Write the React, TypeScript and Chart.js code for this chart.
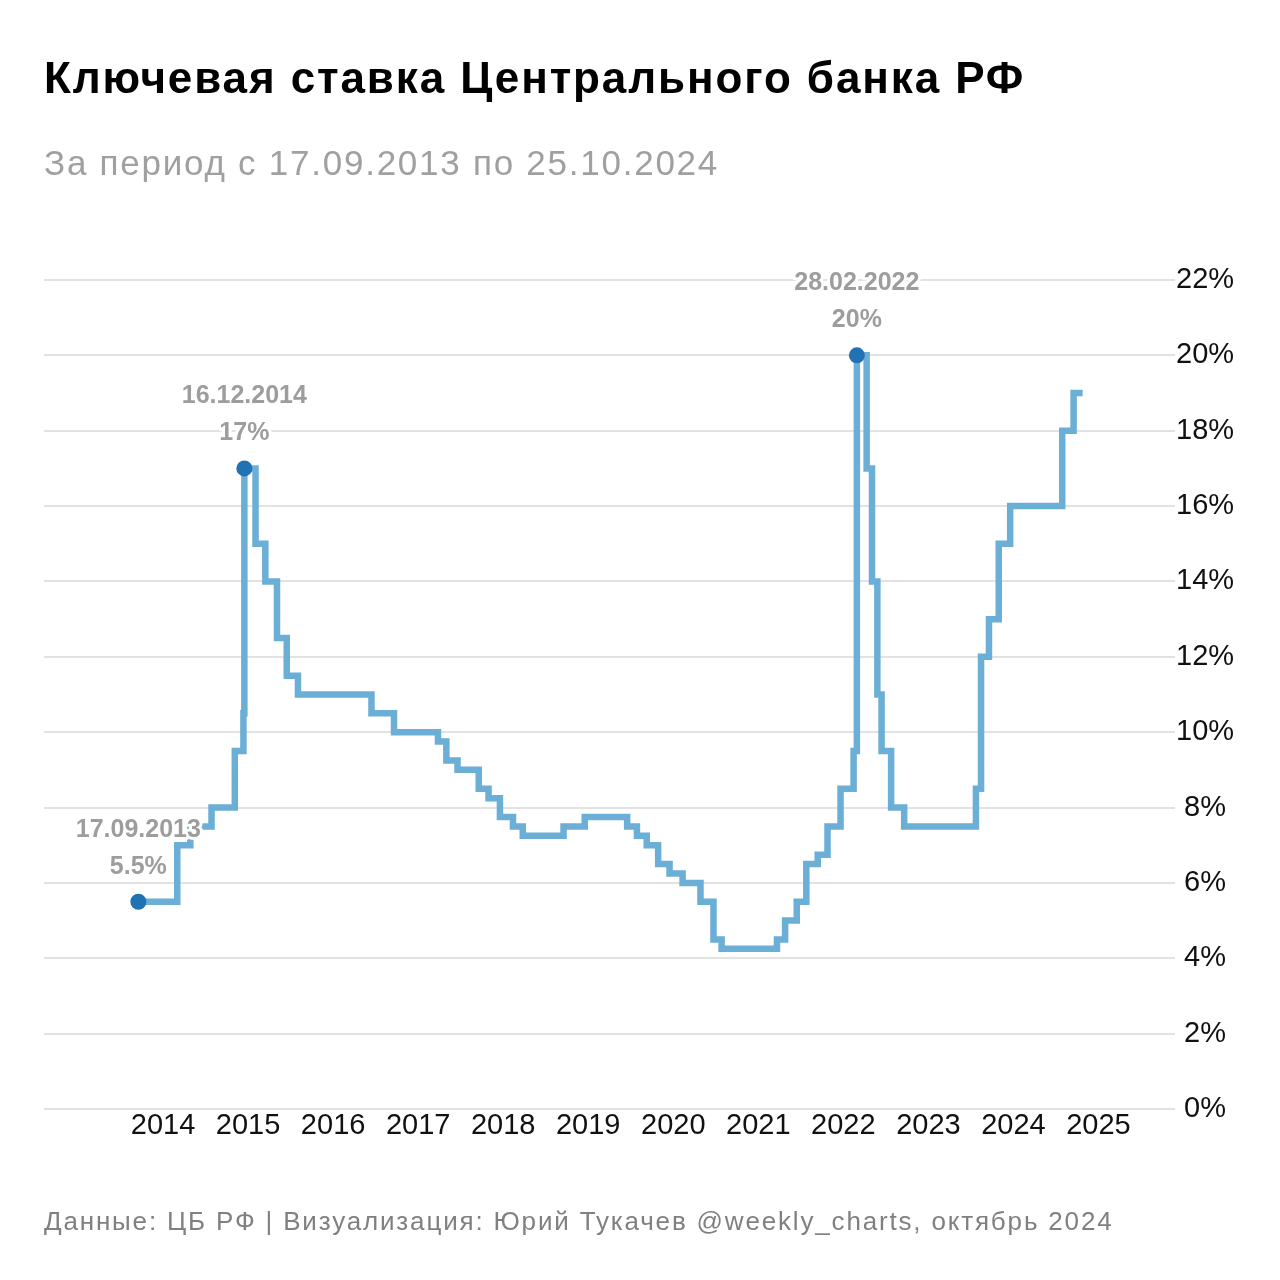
import React, { useEffect, useRef } from "react";
import { Chart, registerables } from "chart.js";

Chart.register(...registerables);

const rateDates = [
  "17.09.2013", "03.03.2014", "28.04.2014", "28.07.2014", "05.11.2014", "12.12.2014", "16.12.2014",
  "02.02.2015", "16.03.2015", "05.05.2015", "16.06.2015", "03.08.2015", "14.06.2016", "19.09.2016",
  "27.03.2017", "02.05.2017", "19.06.2017", "18.09.2017", "30.10.2017", "18.12.2017", "12.02.2018",
  "26.03.2018", "17.09.2018", "17.12.2018", "17.06.2019", "29.07.2019", "09.09.2019", "28.10.2019",
  "16.12.2019", "10.02.2020", "27.04.2020", "22.06.2020", "27.07.2020", "22.03.2021", "26.04.2021",
  "15.06.2021", "26.07.2021", "13.09.2021", "25.10.2021", "20.12.2021", "14.02.2022", "28.02.2022",
  "11.04.2022", "04.05.2022", "27.05.2022", "14.06.2022", "25.07.2022", "19.09.2022", "24.07.2023",
  "15.08.2023", "18.09.2023", "30.10.2023", "18.12.2023", "29.07.2024", "16.09.2024", "25.10.2024",
];
const rateValues = [
  5.5, 7, 7.5, 8, 9.5, 10.5, 17,
  15, 14, 12.5, 11.5, 11, 10.5, 10,
  9.75, 9.25, 9, 8.5, 8.25, 7.75, 7.5,
  7.25, 7.5, 7.75, 7.5, 7.25, 7, 6.5,
  6.25, 6, 5.5, 4.5, 4.25, 4.5, 5,
  5.5, 6.5, 6.75, 7.5, 8.5, 9.5, 20,
  17, 14, 11, 9.5, 8, 7.5, 8.5,
  12, 13, 15, 16, 18, 19, 19,
];

const highlightDates = ["17.09.2013", "16.12.2014", "28.02.2022"];
const highlightValues = [5.5, 17, 20];

const yearTicks = [2014, 2015, 2016, 2017, 2018, 2019, 2020, 2021, 2022, 2023, 2024, 2025];
const percentTicks = [0, 2, 4, 6, 8, 10, 12, 14, 16, 18, 20, 22];

const titleText = "Ключевая ставка Центрального банка РФ";
const subtitleText = "За период с 17.09.2013 по 25.10.2024";
const footerText = "Данные: ЦБ РФ | Визуализация: Юрий Тукачев @weekly_charts, октябрь 2024";

const FONT = '"Liberation Sans", Arial, Helvetica, sans-serif';

function toYear(d: string): number {
  const [dd, mm, yyyy] = d.split(".").map(Number);
  const start = Date.UTC(yyyy, 0, 1);
  const end = Date.UTC(yyyy + 1, 0, 1);
  const t = Date.UTC(yyyy, mm - 1, dd);
  return yyyy + (t - start) / (end - start);
}

const labelPlugin = {
  id: "highlightLabels",
  afterDatasetsDraw(chart: any) {
    const { ctx, scales } = chart;
    ctx.save();
    ctx.font = `bold 25px ${FONT}`;
    ctx.textAlign = "center";
    ctx.textBaseline = "middle";
    ctx.lineJoin = "round";
    highlightDates.forEach((d, i) => {
      const x = scales.x.getPixelForValue(toYear(d));
      const y = scales.y.getPixelForValue(highlightValues[i]);
      const lines: [string, number][] = [
        [d, y - 72],
        [`${highlightValues[i]}%`, y - 35],
      ];
      lines.forEach(([t, ty]) => {
        ctx.strokeStyle = "#ffffff";
        ctx.lineWidth = 6;
        ctx.strokeText(t, x, ty);
        ctx.fillStyle = "#9d9d9d";
        ctx.fillText(t, x, ty);
      });
    });
    ctx.restore();
  },
};

export default function App() {
  const ref = useRef<HTMLCanvasElement>(null);

  useEffect(() => {
    document.body.style.margin = "0";
    const canvas = ref.current!;
    const lineData = rateDates.map((d, i) => ({ x: toYear(d), y: rateValues[i] }));
    const dotData = highlightDates.map((d, i) => ({ x: toYear(d), y: highlightValues[i] }));
    const chart = new Chart(canvas, {
      type: "line",
      data: {
        datasets: [
          {
            data: dotData,
            showLine: false,
            pointRadius: 8,
            pointHoverRadius: 8,
            pointBackgroundColor: "#2171b5",
            pointBorderWidth: 0,
            borderColor: "#2171b5",
            order: 0,
          },
          {
            data: lineData,
            stepped: "before",
            borderColor: "#6baed6",
            borderWidth: 6.5,
            borderJoinStyle: "miter",
            pointRadius: 0,
            pointHoverRadius: 0,
            fill: false,
            order: 1,
          },
        ],
      },
      options: {
        responsive: false,
        animation: false,
        events: [],
        layout: { padding: { left: 44, top: 280, right: 0, bottom: 121 } },
        plugins: {
          legend: { display: false },
          tooltip: { enabled: false },
          title: { display: false },
        },
        scales: {
          x: {
            type: "linear",
            min: 2012.6,
            max: 2025.9,
            grid: { display: false, drawTicks: false },
            border: { display: false },
            afterBuildTicks: (scale: any) => {
              scale.ticks = yearTicks.map((v) => ({ value: v }));
            },
            afterFit: (scale: any) => {
              scale.height = 50;
            },
            ticks: {
              autoSkip: false,
              maxRotation: 0,
              padding: 2,
              color: "#111111",
              font: { family: FONT, size: 29, lineHeight: 1 },
              callback: (v: any) => String(v),
            },
          },
          y: {
            position: "right",
            min: 0,
            max: 22,
            afterBuildTicks: (scale: any) => {
              scale.ticks = percentTicks.map((v) => ({ value: v }));
            },
            afterFit: (scale: any) => {
              scale.width = 105;
            },
            grid: { color: "#e2e2e2", lineWidth: 2, drawTicks: false },
            border: { display: false },
            ticks: {
              crossAlign: "center",
              padding: 1,
              color: "#111111",
              font: { family: FONT, size: 29 },
              callback: (v: any) => `${v}%`,
            },
          },
        },
      },
      plugins: [labelPlugin],
    } as any);
    return () => chart.destroy();
  }, []);

  return (
    <div style={{ position: "relative", width: 1280, height: 1280, background: "#fff", fontFamily: FONT }}>
      <canvas ref={ref} width={1280} height={1280} style={{ position: "absolute", left: 0, top: 0 }} />
      <div
        style={{
          position: "absolute",
          left: 44,
          top: 56,
          fontSize: 44,
          lineHeight: 1,
          fontWeight: "bold",
          letterSpacing: 1.9,
          color: "#000",
          whiteSpace: "nowrap",
        }}
      >
        {titleText}
      </div>
      <div
        style={{
          position: "absolute",
          left: 44,
          top: 145,
          fontSize: 35,
          lineHeight: 1,
          letterSpacing: 1.75,
          color: "#a0a0a0",
          whiteSpace: "nowrap",
        }}
      >
        {subtitleText}
      </div>
      <div
        style={{
          position: "absolute",
          left: 44,
          top: 1208,
          fontSize: 26,
          lineHeight: 1,
          letterSpacing: 1.83,
          color: "#808080",
          whiteSpace: "nowrap",
        }}
      >
        {footerText}
      </div>
    </div>
  );
}
